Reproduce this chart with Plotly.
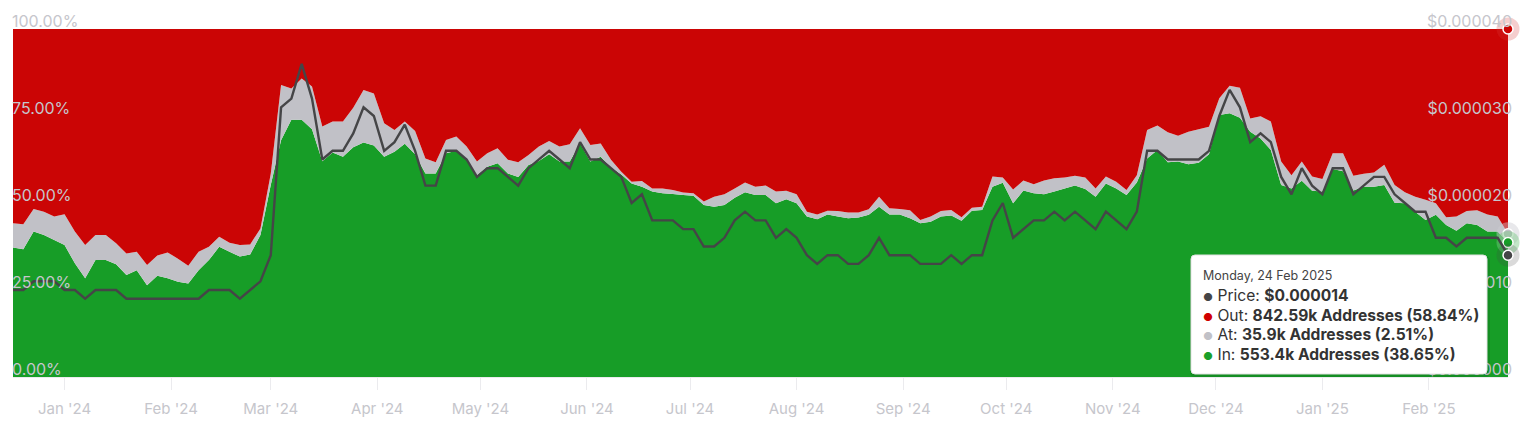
import pandas as pd
import plotly.graph_objects as go

# ---------------- data ----------------
start_date = "2023-12-17"
step_days = 3

# share of addresses "In the money" (green, bottom band), %
in_pct = [
    37.2, 36.7, 41.8, 40.8, 39.4, 37.9, 32.7, 28.4, 33.6, 33.6,
    32.4, 29.3, 30.7, 26.4, 29.1, 28.4, 27.4, 26.9, 30.7, 33.6,
    37.4, 36.0, 34.6, 35.2, 40.8, 55.2, 68.0, 73.9, 73.9,
    71.2, 62.0, 64.5, 63.3, 66.0, 67.4, 66.5, 63.3, 64.7, 67.0,
    64.0, 58.5, 58.5, 64.3, 65.0, 62.8, 58.0, 60.4, 61.4, 58.5,
    57.5, 60.9, 62.1, 64.0, 61.9, 61.9, 67.1, 61.9, 63.3,
    60.2, 58.2, 55.6, 54.7, 53.3, 52.8, 52.6, 52.3, 52.1, 49.4,
    48.9, 49.4, 51.5, 53.1, 52.3, 52.3, 49.9, 51.1, 49.9, 46.1,
    45.3, 46.7, 46.1, 45.6, 45.8, 46.6, 48.9, 46.7, 46.7,
    45.6, 44.2, 44.6, 46.1, 46.4, 44.9, 47.8, 48.0, 54.7, 55.8,
    49.9, 53.6, 52.8, 52.5, 53.3, 54.2, 55.0, 54.0, 51.8, 55.6,
    54.2, 52.3, 55.9, 62.8, 65.2, 61.7, 61.9, 61.1, 61.6,
    64.0, 75.3, 75.8, 74.5, 70.5, 68.5, 65.2, 55.2, 54.2, 56.4,
    53.5, 53.3, 59.8, 59.1, 53.6, 54.7, 54.7, 55.2, 50.1, 49.9,
    47.5, 45.1, 46.6, 43.7, 42.0, 44.2, 43.7, 41.8, 41.8, 38.65,
]

# top of the grey band = In % + At %
in_at_top_pct = [
    44.2, 43.9, 48.3, 47.5, 46.1, 46.8, 41.8, 37.9, 40.8, 40.8,
    38.4, 35.5, 36.0, 32.2, 34.9, 35.8, 34.0, 32.0, 36.0, 37.4,
    40.3, 38.6, 37.9, 38.1, 42.7, 58.4, 83.9, 82.9, 85.8,
    83.5, 72.0, 73.4, 73.4, 77.4, 82.5, 81.5, 72.9, 71.0, 73.4,
    70.7, 62.8, 61.7, 68.1, 69.1, 66.2, 61.9, 64.3, 65.7, 62.4,
    61.7, 63.8, 66.2, 67.8, 66.2, 66.9, 71.5, 66.7, 67.1,
    62.4, 59.0, 56.1, 56.3, 54.2, 54.2, 53.7, 53.0, 52.8, 50.4,
    51.8, 52.5, 54.2, 55.9, 54.7, 55.0, 53.3, 53.5, 52.5, 47.5,
    46.7, 47.8, 47.7, 47.3, 47.3, 48.2, 51.8, 48.5, 48.3,
    47.9, 45.1, 46.1, 47.7, 48.0, 45.9, 48.6, 48.9, 57.6, 57.3,
    53.9, 56.5, 55.4, 56.5, 57.1, 57.3, 57.8, 57.3, 54.2, 57.6,
    56.1, 53.7, 58.0, 71.0, 72.3, 70.3, 69.3, 70.5, 71.2,
    71.9, 80.1, 83.7, 83.1, 74.3, 74.9, 73.4, 61.9, 58.0, 61.9,
    57.6, 56.9, 64.3, 64.3, 57.8, 58.4, 58.8, 61.0, 55.2, 53.1,
    51.8, 50.9, 49.9, 45.9, 46.1, 47.7, 47.9, 46.7, 46.1, 41.16,
]

# price in micro-dollars (1e-6 USD)
price_micro_usd = [
    10, 10, 11, 11, 11, 10, 10, 9, 10, 10,
    10, 9, 9, 9, 9, 9, 9, 9, 9, 10,
    10, 10, 9, 10, 11, 14, 31, 32, 36,
    32, 25, 26, 26, 28, 31, 30, 26, 27, 29,
    26, 22, 22, 26, 26, 25, 23, 24, 24, 23,
    22, 24, 25, 26, 25, 24, 27, 25, 25,
    24, 23, 20, 21, 18, 18, 18, 17, 17, 15,
    15, 16, 18, 19, 18, 18, 16, 17, 16, 14,
    13, 14, 14, 13, 13, 14, 16, 14, 14,
    14, 13, 13, 13, 14, 13, 14, 14, 18, 20,
    16, 17, 18, 18, 19, 18, 19, 18, 17, 19,
    18, 17, 19, 26, 26, 25, 25, 25, 25,
    26, 30, 33, 31, 27, 28, 27, 23, 21, 24,
    22, 21, 24, 24, 21, 22, 23, 23, 21, 20,
    19, 19, 16, 16, 15, 16, 16, 16, 16, 14,
]

y_ticks_pct = [0, 25, 50, 75, 100]
y_ticks_price = [0, 0.00001, 0.00002, 0.00003, 0.00004]

tooltip_date = "Monday, 24 Feb 2025"
tooltip_price = "$0.000014"
tooltip_out = "842.59k Addresses (58.84%)"
tooltip_at = "35.9k Addresses (2.51%)"
tooltip_in = "553.4k Addresses (38.65%)"

# ---------------- derived ----------------
dates = pd.date_range(start_date, periods=len(in_pct), freq=f"{step_days}D")
at_pct = [round(t - i, 2) for t, i in zip(in_at_top_pct, in_pct)]
out_pct = [round(100 - t, 2) for t in in_at_top_pct]
price = [p * 1e-6 for p in price_micro_usd]

RED = "#cb0505"
GREY = "#c1c1c7"
GREEN = "#179d27"
DARK = "#454547"
LABEL = "#c6c6cc"
FONT = "Inter"

W, H = 1526, 424
ML, MR, MT, MB = 13, 18, 29, 47
PW, PH = W - ML - MR, H - MT - MB


def px(x):
    return (x - ML) / PW


def py(y):
    return (H - MB - y) / PH


fig = go.Figure()
fig.add_trace(go.Scatter(x=dates, y=in_pct, stackgroup="s", mode="none",
                         fillcolor=GREEN, name="In", hoverinfo="skip"))
fig.add_trace(go.Scatter(x=dates, y=at_pct, stackgroup="s", mode="none",
                         fillcolor=GREY, name="At", hoverinfo="skip"))
fig.add_trace(go.Scatter(x=dates, y=out_pct, stackgroup="s", mode="none",
                         fillcolor=RED, name="Out", hoverinfo="skip"))
fig.add_trace(go.Scatter(x=dates, y=price, yaxis="y2", mode="lines",
                         line=dict(color=DARK, width=2.4), name="Price",
                         hoverinfo="skip"))

# hover markers at the last point
last = dates[-1]
tot = in_pct[-1] + at_pct[-1] + out_pct[-1]
markers = [
    (tot, "y", RED, "rgba(215,60,60,0.25)"),
    (in_at_top_pct[-1], "y", GREY, "rgba(205,205,210,0.45)"),
    (in_pct[-1], "y", GREEN, "rgba(120,200,130,0.45)"),
    (price[-1], "y2", DARK, "rgba(69,69,71,0.2)"),
]
for val, ax, col, halo in markers:
    fig.add_trace(go.Scatter(x=[last], y=[val], yaxis=ax, mode="markers",
                             marker=dict(size=23, color=halo),
                             cliponaxis=False, hoverinfo="skip",
                             showlegend=False))
    fig.add_trace(go.Scatter(x=[last], y=[val], yaxis=ax, mode="markers",
                             marker=dict(size=10, color=col,
                                         line=dict(color="white", width=1.5)),
                             cliponaxis=False, hoverinfo="skip",
                             showlegend=False))


def rrect(x0, y0, x1, y1, r):
    rx, ry = r / PW, r / PH
    X0, X1 = px(x0), px(x1)
    Y0, Y1 = py(y0), py(y1)  # Y0 top, Y1 bottom
    return (f"M{X0+rx},{Y0} L{X1-rx},{Y0} Q{X1},{Y0} {X1},{Y0-ry} "
            f"L{X1},{Y1+ry} Q{X1},{Y1} {X1-rx},{Y1} L{X0+rx},{Y1} "
            f"Q{X0},{Y1} {X0},{Y1+ry} L{X0},{Y0-ry} Q{X0},{Y0} {X0+rx},{Y0} Z")


shapes = [
    dict(type="path", xref="paper", yref="paper", layer="above",
         path=rrect(1190, 256, 1490, 377, 5),
         fillcolor="rgba(0,0,0,0.10)", line=dict(width=0)),
    dict(type="path", xref="paper", yref="paper", layer="above",
         path=rrect(1191, 255, 1487, 374, 4),
         fillcolor="white", line=dict(color="#e2e2e2", width=1)),
]


def bullet(c):
    return f"<span style='color:{c};font-size:11px'>●</span> "


rows = [
    (275, f"<span style='font-size:12.5px;color:#444'>{tooltip_date}</span>"),
    (295, bullet(DARK) + f"Price: <b>{tooltip_price}</b>"),
    (315, bullet("#d00000") + f"Out: <b>{tooltip_out}</b>"),
    (334, bullet(GREY) + f"At: <b>{tooltip_at}</b>"),
    (354, bullet("#1aa02a") + f"In: <b>{tooltip_in}</b>"),
]
annotations = []
for yy, txt in rows:
    annotations.append(dict(x=px(1201), y=py(yy), xref="paper", yref="paper",
                            xanchor="left", yanchor="middle", showarrow=False,
                            text=txt, align="left",
                            font=dict(family=FONT, size=15.6, color="#333333")))

pct_text = [f"{v:.2f}%" for v in y_ticks_pct]
price_text = [f"${v:.6f}" for v in y_ticks_price]

fig.update_layout(
    width=W, height=H,
    margin=dict(l=ML, r=MR, t=MT, b=MB, pad=0, autoexpand=False),
    paper_bgcolor="white", plot_bgcolor="white",
    showlegend=False,
    font=dict(family=FONT),
    shapes=shapes,
    annotations=annotations,
    xaxis=dict(range=[dates[0], dates[-1]], showgrid=False, zeroline=False,
               automargin=False,
               tickformat="%b '%y", dtick="M1", tick0="2024-01-01",
               ticks="outside", ticklen=12, tickcolor="#ebebee", tickwidth=1,
               showline=True, linecolor="#ebebee", linewidth=1,
               tickfont=dict(family=FONT, size=15, color=LABEL),
               ticklabelstandoff=6),
    yaxis=dict(range=[0, 100], tickmode="array", tickvals=y_ticks_pct,
               ticktext=pct_text, automargin=False,
               ticklabelposition="inside top", ticklabeloverflow="allow",
               ticklabelstandoff=-4, ticklabelshift=4,
               showgrid=False, zeroline=False, ticks="",
               tickfont=dict(family=FONT, size=16, color=LABEL)),
    yaxis2=dict(range=[0, 0.00004], tickmode="array", tickvals=y_ticks_price,
                ticktext=price_text, automargin=False,
                ticklabelposition="inside top", ticklabeloverflow="allow",
                ticklabelstandoff=-7, ticklabelshift=4,
                overlaying="y", side="right", showgrid=False,
                zeroline=False, ticks="",
                tickfont=dict(family=FONT, size=16, color=LABEL)),
)

fig.write_html("out.html")
